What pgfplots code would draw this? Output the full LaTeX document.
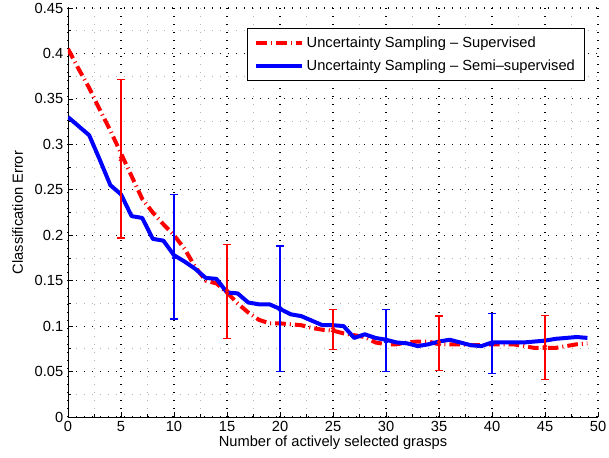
\documentclass[border=0pt]{standalone}
\usepackage{pgfplots}
\pgfplotsset{compat=1.18}
\usepackage{fontspec}
\setmainfont{Liberation Sans}

\pgfplotstableread{
x sup semi
0 0.405 0.330
1 0.383 0.320
2 0.362 0.310
3 0.338 0.283
4 0.315 0.255
5 0.290 0.245
6 0.265 0.221
7 0.240 0.219
8 0.225 0.196
9 0.212 0.194
10 0.200 0.178
11 0.185 0.171
12 0.165 0.163
13 0.150 0.153
14 0.147 0.152
15 0.137 0.137
16 0.125 0.136
17 0.115 0.126
18 0.107 0.124
19 0.103 0.124
20 0.103 0.119
21 0.102 0.113
22 0.101 0.111
23 0.098 0.106
24 0.096 0.101
25 0.095 0.101
26 0.092 0.100
27 0.090 0.087
28 0.088 0.091
29 0.082 0.087
30 0.080 0.085
31 0.080 0.082
32 0.082 0.081
33 0.083 0.078
34 0.083 0.080
35 0.080 0.083
36 0.080 0.085
37 0.080 0.082
38 0.079 0.079
39 0.079 0.078
40 0.080 0.082
41 0.080 0.082
42 0.080 0.082
43 0.078 0.082
44 0.076 0.083
45 0.076 0.084
46 0.076 0.086
47 0.078 0.087
48 0.080 0.088
49 0.081 0.087
}\curves

\newcommand{\lbl}{\fontsize{11}{13}\selectfont}

\begin{document}
\begin{tikzpicture}
\begin{axis}[
  scale only axis,
  width=397.5pt,
  height=306.75pt,
  xmin=0, xmax=50,
  ymin=0, ymax=0.45,
  axis lines*=left,
  axis line style={-, line width=0.6pt},
  tick align=inside,
  xtick={0,5,...,50},
  ytick={0,0.05,...,0.45},
  minor x tick num=1,
  minor y tick num=1,
  major tick length=4pt,
  minor tick length=2pt,
  tick style={black, line width=0.5pt},
  /pgf/number format/assume math mode=true,
  tick label style={font=\lbl},
  label style={font=\lbl},
  yticklabel style={/pgf/number format/fixed, /pgf/number format/precision=2},
  grid=both,
  major grid style={black, line width=0.8pt, dash pattern=on 0.8pt off 5.2pt},
  minor grid style={gray!60, line width=0.6pt, dash pattern=on 0.6pt off 5.4pt},
  xlabel={Number of actively selected grasps},
  ylabel={Classification Error},
  xlabel style={yshift=4pt},
  ylabel style={yshift=2pt},
  legend style={at={(0.975,0.951)}, anchor=north east, draw=black, line width=0.8pt,
    font=\lbl, row sep=4pt, inner xsep=5pt, inner ysep=4pt,
    /tikz/every even column/.append style={column sep=2pt}},
  legend cell align=left,
  legend image code/.code={\draw[#1] (0cm,0cm) -- (1.2cm,0cm);},
]
\coordinate (ll) at (rel axis cs:0,0);
\coordinate (ur) at (rel axis cs:1,1);
\addplot[red, line width=3pt, dash pattern=on 8pt off 3pt on 0.8pt off 3pt] table[x=x, y=sup] {\curves};
\addlegendentry{Uncertainty Sampling -- Supervised}
\addplot[blue, line width=3pt, line join=round] table[x=x, y=semi] {\curves};
\addlegendentry{Uncertainty Sampling -- Semi--supervised}
\addplot[red, line width=1pt, only marks, mark=x, mark size=2pt, forget plot,
  error bars/.cd, y dir=both, y explicit,
  error bar style={red, line width=1pt},
  error mark options={red, rotate=90, mark size=3pt, line width=1pt}]
  coordinates {(5,0.284) +- (0,0.087) (15,0.138) +- (0,0.052) (25,0.096) +- (0,0.022)
               (35,0.081) +- (0,0.030) (45,0.0765) +- (0,0.0355)};
\addplot[blue, line width=1pt, only marks, mark=x, mark size=2pt, forget plot,
  error bars/.cd, y dir=both, y explicit,
  error bar style={blue, line width=1pt},
  error mark options={blue, rotate=90, mark size=3pt, line width=1pt}]
  coordinates {(10,0.1765) +- (0,0.0685) (20,0.119) +- (0,0.069)
               (30,0.084) +- (0,0.034) (40,0.081) +- (0,0.033)};
\end{axis}
\pgfresetboundingbox
\path[use as bounding box] ([shift={(-51pt,-30.75pt)}]ll) rectangle ([shift={(8.25pt,6pt)}]ur);
\end{tikzpicture}
\end{document}
